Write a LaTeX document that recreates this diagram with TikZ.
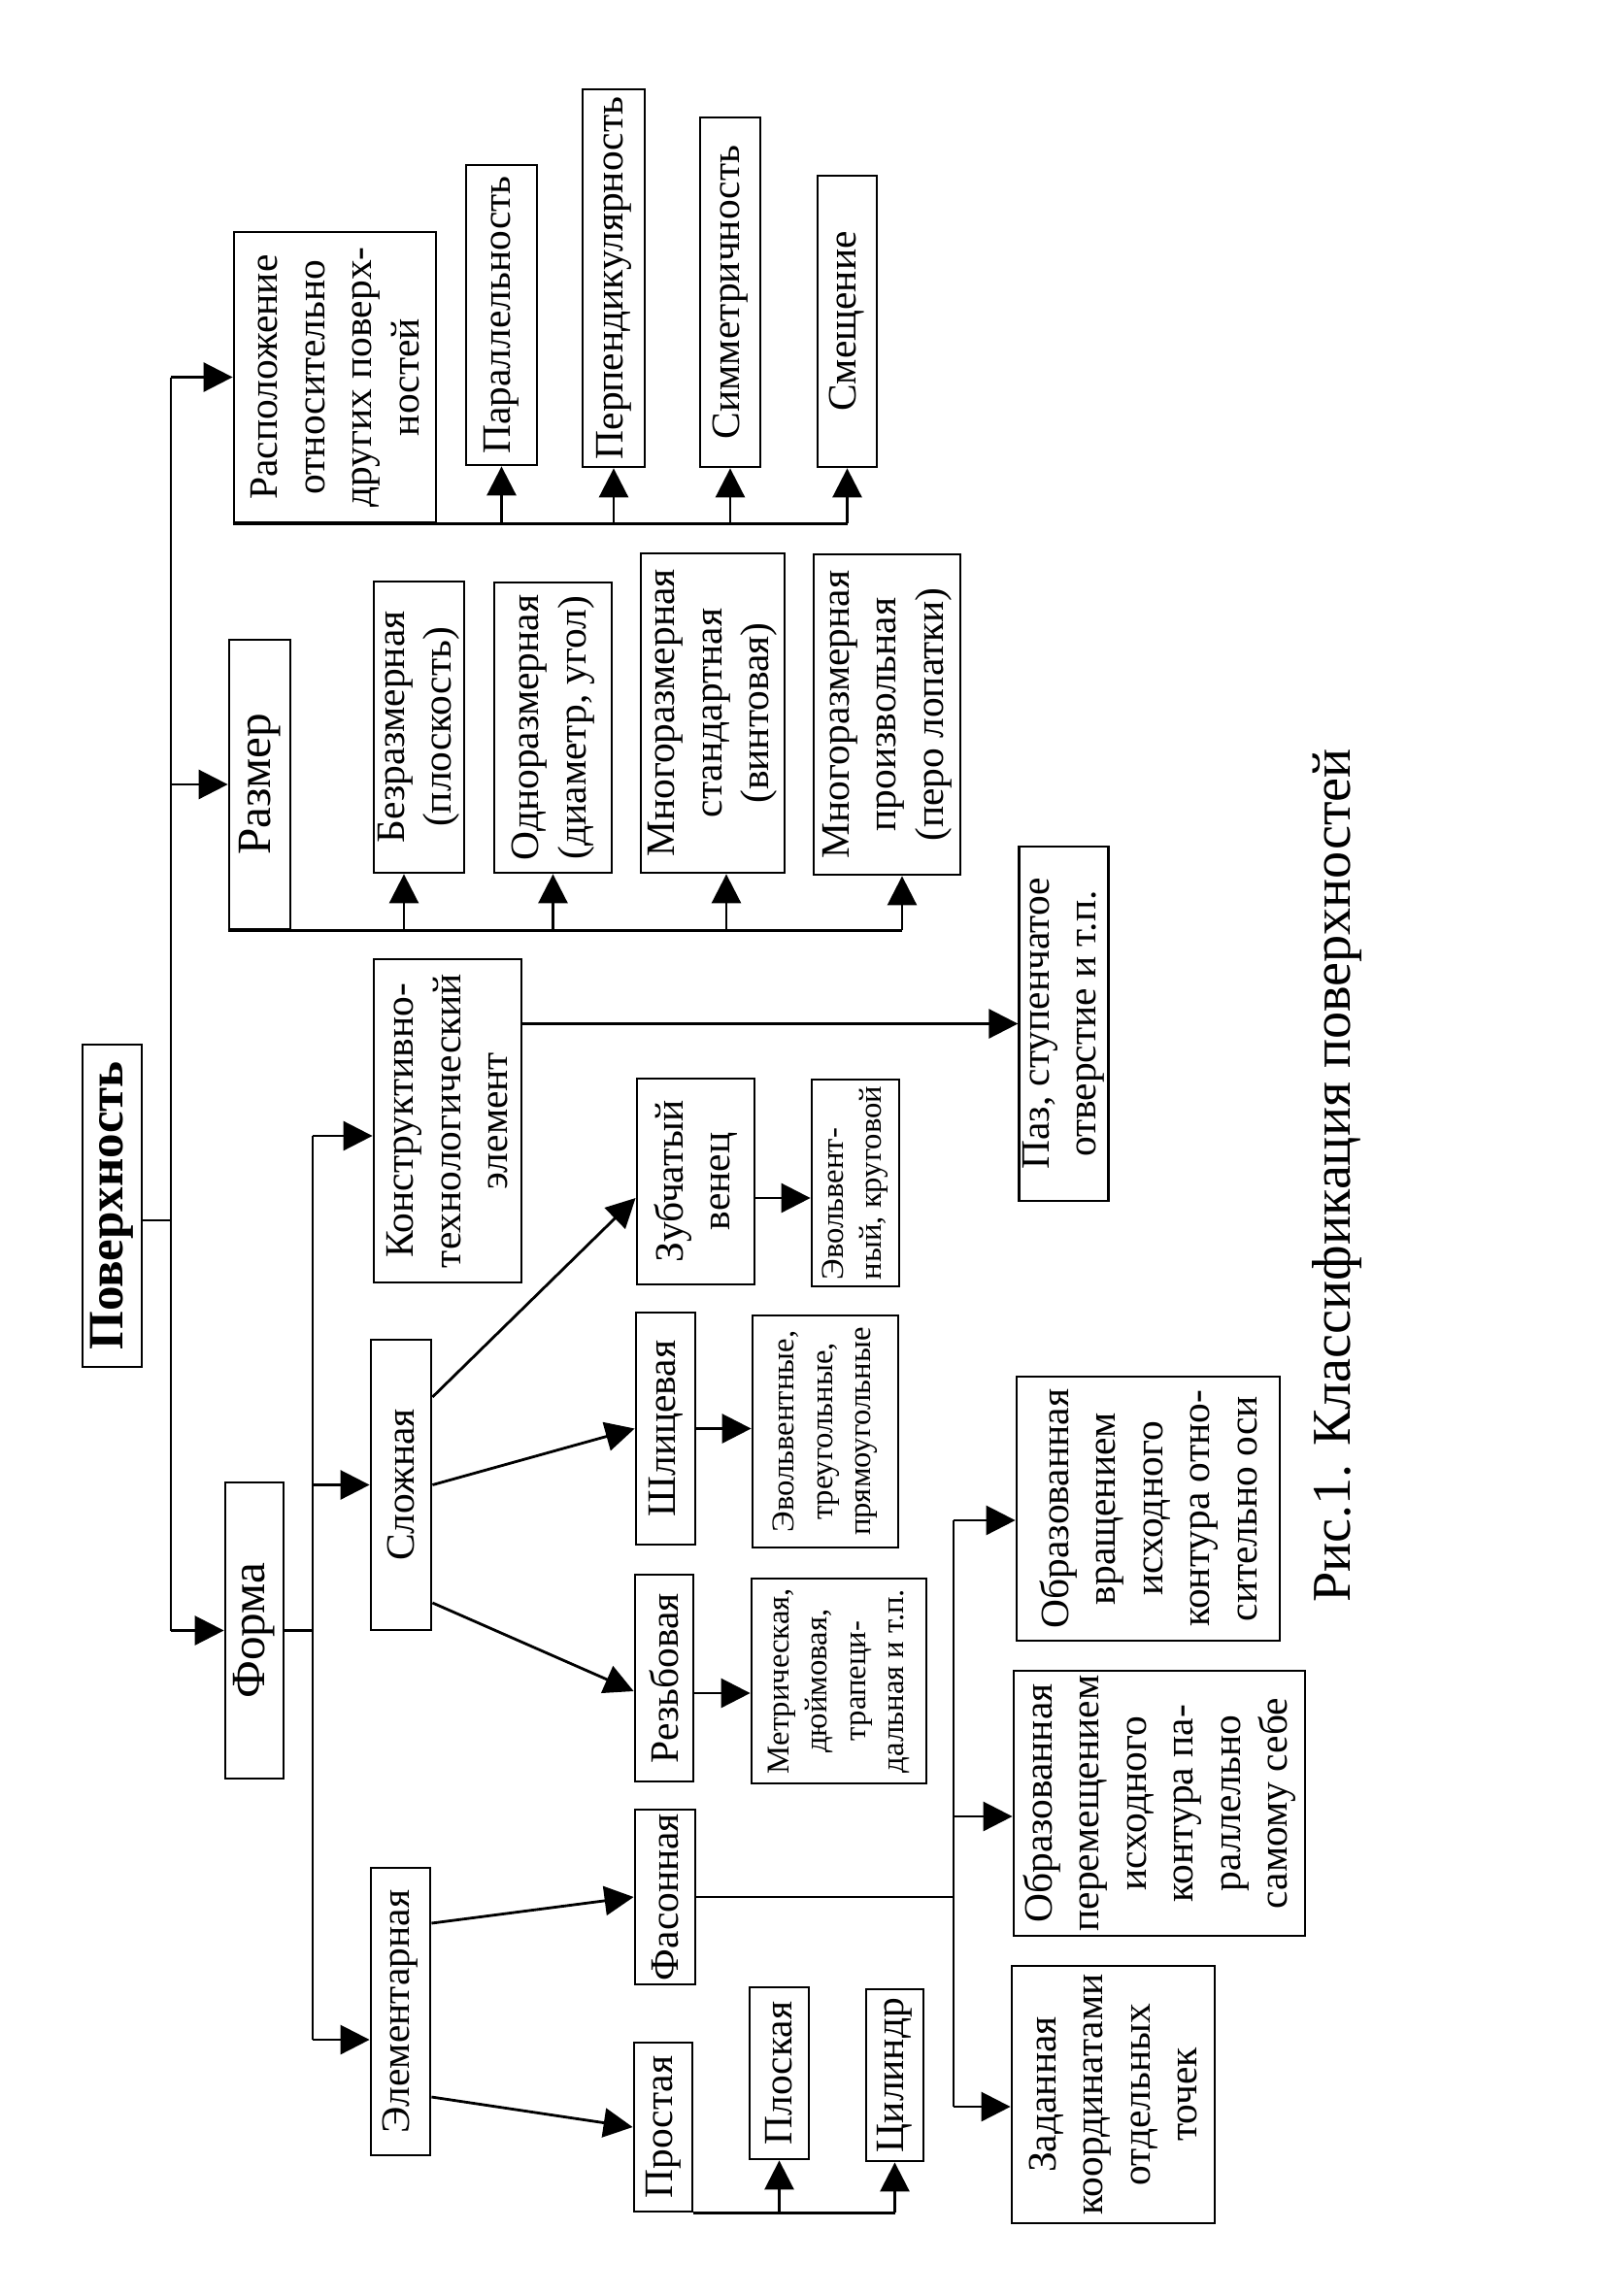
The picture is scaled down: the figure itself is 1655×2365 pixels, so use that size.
\documentclass[tikz,border=0pt]{standalone}
\usepackage{fontspec}
\setmainfont{Liberation Serif}
\usetikzlibrary{arrows.meta}
\newcommand{\boxfont}{\fontsize{11.8}{13.8}\selectfont}
\newcommand{\bigboxfont}{\fontsize{14}{16}\selectfont}
\newcommand{\smallboxfont}{\fontsize{9.3}{11.2}\selectfont}
\newcommand{\titlefont}{\fontsize{14.5}{17}\selectfont\bfseries}
\newcommand{\capfont}{\fontsize{16}{19}\selectfont}
\tikzset{
  box/.style={draw, line width=0.8pt, rotate=90, align=center, inner sep=1pt, font=\boxfont},
  arr/.style={-{Triangle[length=3mm,width=3mm]}}
}
\begin{document}
\begin{tikzpicture}[x=0.1mm, y=-0.1mm, line width=0.8pt]
\useasboundingbox (0,0) rectangle (1655,2365);
% top
\node[box, font=\titlefont, minimum width=33.2mm, minimum height=6.1mm] (pov) at (115.5,1242) {Поверхность};
% position
\node[box, minimum width=29.9mm, minimum height=20.8mm] (raspol) at (345,388.5) {Расположение\\относительно\\других поверх-\\ностей};
\node[box, minimum width=30.9mm, minimum height=7.3mm] (par) at (516.5,324.5) {Параллельность};
\node[box, minimum width=38.9mm, minimum height=6.4mm] (perp) at (632,286.5) {Перпендикулярность};
\node[box, minimum width=36.0mm, minimum height=6.2mm] (sim) at (752,301) {Симметричность};
\node[box, minimum width=30.0mm, minimum height=6.1mm] (smes) at (872.5,331) {Смещение};
% size
\node[box, font=\bigboxfont, minimum width=29.8mm, minimum height=6.3mm] (razmer) at (267.5,808) {Размер};
\node[box, minimum width=30.0mm, minimum height=9.3mm] (bezr) at (431.5,749) {Безразмерная\\(плоскость)};
\node[box, minimum width=29.9mm, minimum height=12.1mm] (odno) at (569.5,749.5) {Одноразмерная\\(диаметр, угол)};
\node[box, minimum width=32.9mm, minimum height=14.8mm] (mnogo1) at (734,734.5) {Многоразмерная\\стандартная\\(винтовая)};
\node[box, minimum width=33.0mm, minimum height=15.1mm] (mnogo2) at (913.5,736) {Многоразмерная\\произвольная\\(перо лопатки)};
% form
\node[box, font=\bigboxfont, minimum width=30.5mm, minimum height=6.0mm] (forma) at (262,1679.5) {Форма};
\node[box, minimum width=33.3mm, minimum height=15.2mm] (konstr) at (461,1154.5) {Конструктивно-\\технологический\\элемент};
\node[box, minimum width=36.5mm, minimum height=9.1mm] (paz) at (1095.5,1054.5) {Паз, ступенчатое\\отверстие и т.п.};
\node[box, minimum width=29.9mm, minimum height=6.2mm] (slozh) at (413,1529.5) {Сложная};
\node[box, minimum width=21.2mm, minimum height=12.1mm] (zub) at (716.5,1217) {Зубчатый\\венец};
\node[box, font=\smallboxfont, align=left, minimum width=21.3mm, minimum height=9.0mm] (zubvid) at (881,1218.5) {Эвольвент-\\ный, круговой};
\node[box, minimum width=23.9mm, minimum height=6.1mm] (shlic) at (685.5,1471.5) {Шлицевая};
\node[box, font=\smallboxfont, minimum width=23.9mm, minimum height=15.0mm] (shlicvid) at (850,1474.5) {Эвольвентные,\\треугольные,\\прямоугольные};
\node[box, minimum width=21.3mm, minimum height=6.0mm] (rezb) at (684,1728.5) {Резьбовая};
\node[box, font=\smallboxfont, minimum width=21.1mm, minimum height=18.0mm] (rezbvid) at (864,1731.5) {Метрическая,\\дюймовая,\\трапеци-\\дальная и т.п.};
\node[box, minimum width=29.6mm, minimum height=6.1mm] (elem) at (412.5,2072) {Элементарная};
\node[box, minimum width=18.0mm, minimum height=6.2mm] (fas) at (685,1954) {Фасонная};
\node[box, minimum width=17.4mm, minimum height=6.0mm] (prost) at (683,2191) {Простая};
\node[box, minimum width=17.7mm, minimum height=6.1mm] (plosk) at (802.5,2135.5) {Плоская};
\node[box, minimum width=17.7mm, minimum height=5.9mm] (cil) at (921.5,2137.5) {Цилиндр};
\node[box, minimum width=27.2mm, minimum height=27.1mm] (vrash) at (1182.5,1554) {Образованная\\вращением\\исходного\\контура отно-\\сительно оси};
\node[box, minimum width=27.3mm, minimum height=30.0mm] (perem) at (1194,1857.5) {Образованная\\перемещением\\исходного\\контура па-\\раллельно\\самому себе};
\node[box, minimum width=26.5mm, minimum height=20.9mm] (zadan) at (1146.5,2157.5) {Заданная\\координатами\\отдельных\\точек};
% caption
\node[rotate=90, font=\capfont] (cap) at (1377,1211) {Рис.1. Классификация поверхностей};

% trunk
\draw (pov.south |- 0,1257) -- (176,1257);
\draw (raspol.north -| 176,0) -- (forma.north -| 176,0);
\draw[arr] (raspol.north -| 176,0) -- (raspol.north);
\draw[arr] (razmer.north -| 176,0) -- (razmer.north);
\draw[arr] (forma.north -| 176,0) -- (forma.north);
% position bus
\draw (raspol.north west) -- (raspol.north west -| smes.west);
\draw[arr] (raspol.north west -| par.west) -- (par.west);
\draw[arr] (raspol.north west -| perp.west) -- (perp.west);
\draw[arr] (raspol.north west -| sim.west) -- (sim.west);
\draw[arr] (raspol.north west -| smes.west) -- (smes.west);
% size bus
\draw (razmer.north west) -- (razmer.north west -| 929,0);
\draw[arr] (razmer.north west -| 416,0) -- (bezr.west -| 416,0);
\draw[arr] (razmer.north west -| odno.west) -- (odno.west);
\draw[arr] (razmer.north west -| 748,0) -- (mnogo1.west -| 748,0);
\draw[arr] (razmer.north west -| 929,0) -- (mnogo2.west -| 929,0);
% form branch
\draw (forma.south) -- (forma.south -| 322,0);
\draw (322,1170) -- (322,2101);
\draw[arr] (322,1170) -- (konstr.north |- 0,1170);
\draw[arr] (slozh.north -| 322,0) -- (slozh.north);
\draw[arr] (322,2101) -- (elem.north |- 0,2101);
\draw[arr] (konstr.south |- paz.north) -- (paz.north);
% complex
\draw[arr] (slozh.south |- 0,1439) -- (zub.north |- 0,1234);
\draw[arr] (slozh.south) -- (shlic.north);
\draw[arr] (slozh.south |- 0,1651) -- (rezb.north |- 0,1742);
\draw[arr] (zub.south |- 0,1234) -- (zubvid.north |- 0,1234);
\draw[arr] (shlic.south) -- (shlic.south -| shlicvid.north);
\draw[arr] (rezb.south |- 0,1744) -- (rezbvid.north |- 0,1744);
% elementary
\draw[arr] (elem.south |- 0,1981) -- (fas.north);
\draw[arr] (elem.south |- 0,2160) -- (prost.north);
\draw (prost.south west) -- (prost.south west -| cil.west);
\draw[arr] (prost.south west -| plosk.west) -- (plosk.west);
\draw[arr] (prost.south west -| cil.west) -- (cil.west);
\draw (fas.south) -- (fas.south -| 982,0);
\draw (982,1566) -- (982,2170);
\draw[arr] (982,1566) -- (vrash.north |- 0,1566);
\draw[arr] (982,1871) -- (perem.north |- 0,1871);
\draw[arr] (982,2170) -- (zadan.north |- 0,2170);
\end{tikzpicture}
\end{document}
